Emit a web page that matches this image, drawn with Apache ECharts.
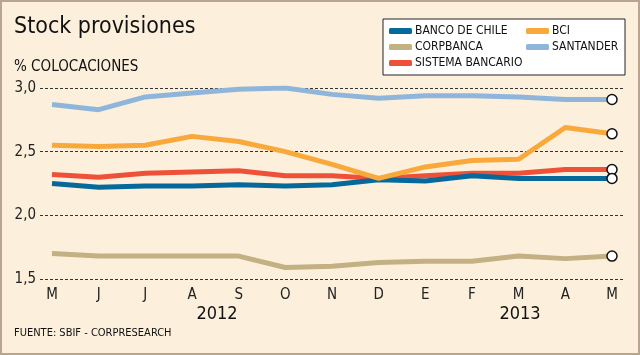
<!DOCTYPE html>
<html><head><meta charset="utf-8">
<script src="https://cdn.jsdelivr.net/npm/echarts@6/dist/echarts.min.js"></script>
<style>html,body{margin:0;padding:0;background:#fcf0dc}#c{width:640px;height:355px}</style>
</head><body><div id="c"></div>
<script>
const months = ['M','J','J','A','S','O','N','D','E','F','M','A','M'];
const yTicks = [1.5, 2.0, 2.5, 3.0];
const bancoDeChile = [2.25,2.22,2.23,2.23,2.24,2.23,2.24,2.28,2.27,2.31,2.29,2.29,2.29];
const corpbanca = [1.70,1.68,1.68,1.68,1.68,1.59,1.60,1.63,1.64,1.64,1.68,1.66,1.68];
const sistemaBancario = [2.32,2.30,2.33,2.34,2.35,2.31,2.31,2.29,2.31,2.33,2.33,2.36,2.36];
const bci = [2.55,2.54,2.55,2.62,2.58,2.50,2.40,2.29,2.38,2.43,2.44,2.69,2.64];
const santander = [2.87,2.83,2.93,2.96,2.99,3.00,2.95,2.92,2.94,2.94,2.93,2.91,2.91];
const years = [{text:'2012', x:217}, {text:'2013', x:520}];

const FONT = '"DejaVu Sans Condensed","Liberation Sans Narrow",sans-serif';
const chart = echarts.init(document.getElementById('c'), null, {renderer:'canvas'});

function mk(name, data, color, z) {
  const d = data.map((v,i) => i === data.length-1 ? {value:v, symbol:'circle', symbolSize:10,
    itemStyle:{color:'#fff', borderColor:'#111', borderWidth:1.5}} : {value:v, symbol:'none'});
  return {name, type:'line', xAxisIndex:1, yAxisIndex:1, data:d, symbol:'none', showSymbol:true,
    lineStyle:{color, width:5}, itemStyle:{color}, z, animation:false, silent:true};
}

chart.setOption({
  backgroundColor:'#fcf0dc',
  animation:false,
  grid:[{left:40, right:15, top:88, bottom:76}, {left:52, right:28, top:88, bottom:76}],
  xAxis:[
    {gridIndex:0, type:'value', show:false, min:0, max:1},
    {gridIndex:1, type:'category', data:months, boundaryGap:false,
     axisLine:{show:false}, axisTick:{show:false}, splitLine:{show:false},
     axisLabel:{color:'#222', fontFamily:FONT, fontSize:15, margin:9, interval:0}}
  ],
  yAxis:[
    {gridIndex:0, type:'value', min:yTicks[0], max:yTicks[yTicks.length-1], interval:0.5,
     axisLine:{show:false}, axisTick:{show:false},
     splitLine:{lineStyle:{color:'#333', type:[3,2], width:1}},
     axisLabel:{color:'#222', fontFamily:FONT, fontSize:15, margin:4,
       formatter:v => v.toFixed(1).replace('.', ',')}},
    {gridIndex:1, type:'value', min:yTicks[0], max:yTicks[yTicks.length-1], show:false}
  ],
  legend:[
    {data:['BANCO DE CHILE','CORPBANCA','SISTEMA BANCARIO'], orient:'vertical', left:389, top:25,
     itemWidth:23, itemHeight:6, itemGap:4, icon:'roundRect', padding:0,
     textStyle:{color:'#111', fontFamily:FONT, fontSize:12, lineHeight:12, padding:[0,0,0,-2]}},
    {data:['BCI','SANTANDER'], orient:'vertical', left:526, top:25,
     itemWidth:23, itemHeight:6, itemGap:4, icon:'roundRect', padding:0,
     textStyle:{color:'#111', fontFamily:FONT, fontSize:12, lineHeight:12, padding:[0,0,0,-2]}}
  ],
  graphic:[
    {type:'rect', shape:{x:1, y:1, width:638, height:353}, style:{fill:'none', stroke:'#b9a58f', lineWidth:2}, z:-1},
    {type:'rect', shape:{x:383, y:19, width:242, height:56}, style:{fill:'#fff', stroke:'#222', lineWidth:1}, z:-1},
    {type:'text', left:14, top:16, style:{text:'Stock provisiones', fill:'#111', font:'23px '+FONT}},
    {type:'text', left:14, top:60, style:{text:'% COLOCACIONES', fill:'#111', font:'15px '+FONT}},
    ...years.map(y => ({type:'text', x:y.x, y:305, style:{text:y.text, fill:'#111', font:'18px '+FONT, align:'center'}})),
    {type:'text', left:14, top:328, style:{text:'FUENTE: SBIF - CORPRESEARCH', fill:'#111', font:'11px '+FONT}}
  ],
  series:[
    mk('CORPBANCA', corpbanca, '#c3b183', 2),
    mk('SANTANDER', santander, '#8fb6da', 2),
    mk('SISTEMA BANCARIO', sistemaBancario, '#ee5038', 3),
    mk('BANCO DE CHILE', bancoDeChile, '#06699b', 4),
    mk('BCI', bci, '#f9a93b', 5)
  ]
});
</script></body></html>
